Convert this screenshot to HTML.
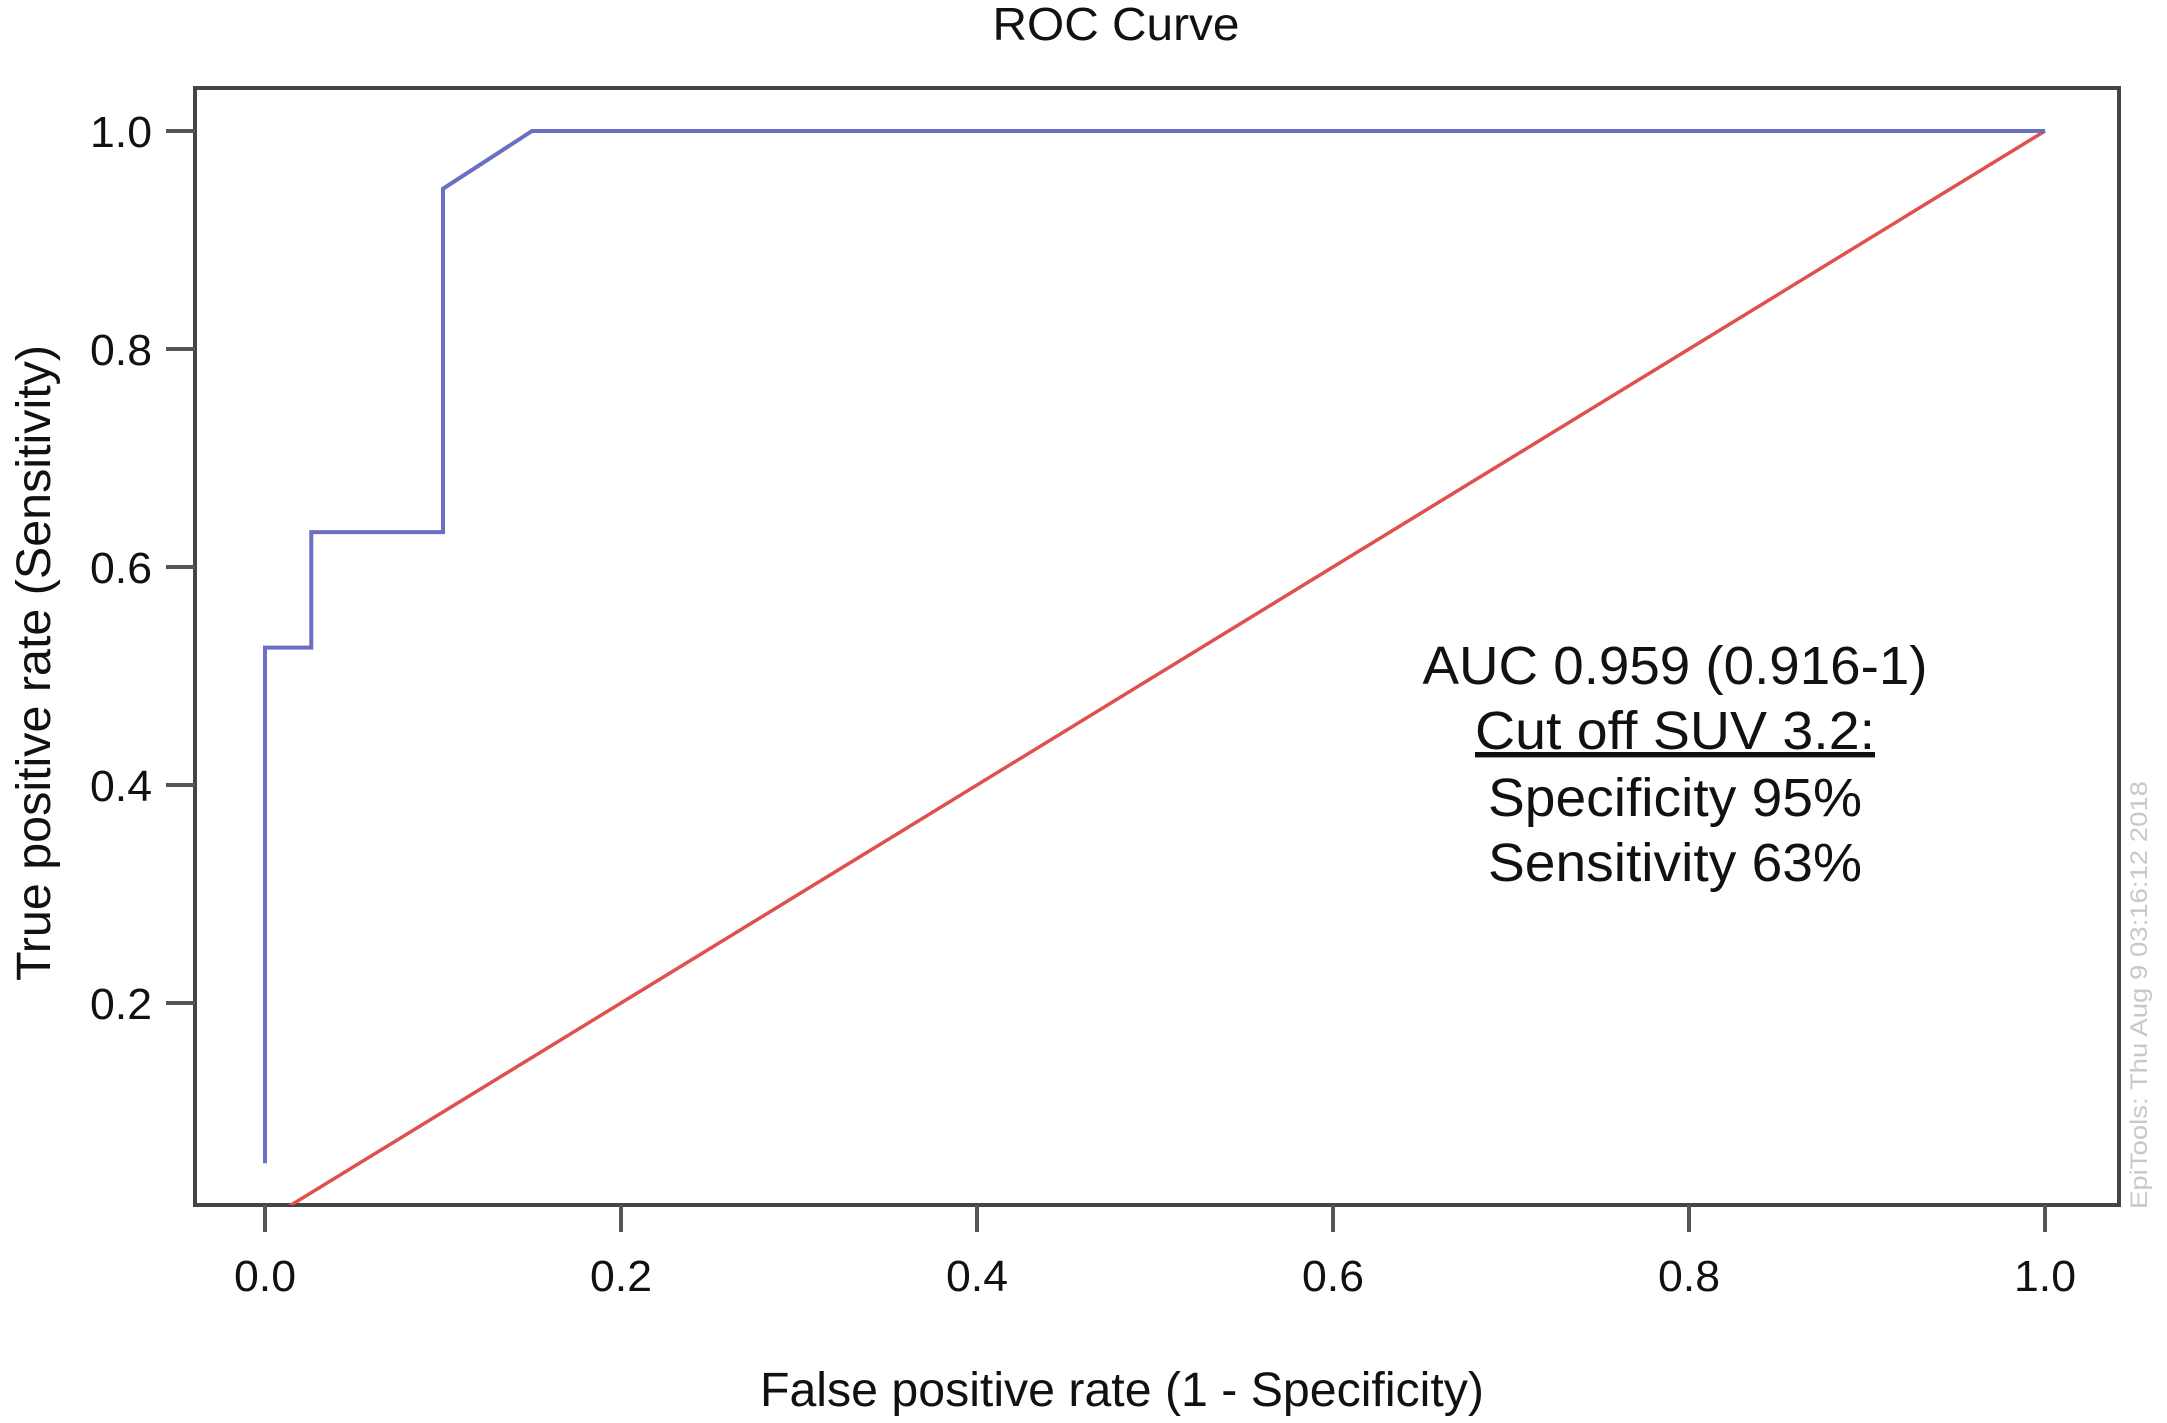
<!DOCTYPE html>
<html><head><meta charset="utf-8"><style>
html,body{margin:0;padding:0;background:#fff;}
svg{display:block;font-family:"Liberation Sans",sans-serif;}
</style></head><body>
<svg id="chart" width="2167" height="1423" viewBox="0 0 2167 1423">
<defs><clipPath id="plotclip"><rect x="195" y="88" width="1924" height="1117"/></clipPath></defs>
<text x="1116" y="40" font-size="46" text-anchor="middle" fill="#111" textLength="247" lengthAdjust="spacingAndGlyphs">ROC Curve</text>
<rect x="195" y="88" width="1924" height="1117" fill="none" stroke="#444" stroke-width="4"/>
<g id="xaxis"></g>
<g id="yaxis"></g>
<g id="series" clip-path="url(#plotclip)"></g>
<text x="1122" y="1406" font-size="48" text-anchor="middle" fill="#111" textLength="724" lengthAdjust="spacingAndGlyphs">False positive rate (1 - Specificity)</text>
<text transform="translate(50,663) rotate(-90)" font-size="48" text-anchor="middle" fill="#111" textLength="636" lengthAdjust="spacingAndGlyphs">True positive rate (Sensitivity)</text>
<g font-size="54" text-anchor="middle" fill="#111">
<text x="1675" y="684" textLength="505" lengthAdjust="spacingAndGlyphs">AUC 0.959 (0.916-1)</text>
<text x="1675" y="749" text-decoration="underline" textLength="400" lengthAdjust="spacingAndGlyphs">Cut off SUV 3.2:</text>
<text x="1675" y="816" textLength="374" lengthAdjust="spacingAndGlyphs">Specificity 95%</text>
<text x="1675" y="881" textLength="374" lengthAdjust="spacingAndGlyphs">Sensitivity 63%</text>
</g>
<text transform="translate(2147,995) rotate(-90)" font-size="24" text-anchor="middle" fill="#c8c8c8" textLength="428" lengthAdjust="spacingAndGlyphs">EpiTools: Thu Aug  9 03:16:12 2018</text>
</svg>
<script>
const xTicks = [0.0, 0.2, 0.4, 0.6, 0.8, 1.0];
const xTickLabels = ["0.0", "0.2", "0.4", "0.6", "0.8", "1.0"];
const yTicks = [0.2, 0.4, 0.6, 0.8, 1.0];
const yTickLabels = ["0.2", "0.4", "0.6", "0.8", "1.0"];
const rocFPR = [0, 0, 0.026, 0.026, 0.1, 0.1, 0.15, 1.0];
const rocTPR = [0.053, 0.526, 0.526, 0.632, 0.632, 0.947, 1.0, 1.0];
const refFPR = [0, 1];
const refTPR = [0, 1];

const NS = "http://www.w3.org/2000/svg";
function sx(v){ return 265 + v * 1780; }
function sy(v){ return 1221 - v * 1090; }
function mk(tag, attrs, parent){
  const e = document.createElementNS(NS, tag);
  for (const k in attrs) e.setAttribute(k, attrs[k]);
  parent.appendChild(e);
  return e;
}
const xg = document.getElementById('xaxis');
xTicks.forEach((t,i)=>{
  const l = mk('line',{x1:sx(t),x2:sx(t),y1:1205,y2:1232,stroke:'#555','stroke-width':4},xg);
  
  
  const tx = mk('text',{x:sx(t),y:1291,'font-size':44,'text-anchor':'middle',fill:'#111',textLength:62,lengthAdjust:'spacingAndGlyphs'},xg);
  tx.textContent = xTickLabels[i];
  
  
});
const yg = document.getElementById('yaxis');
yTicks.forEach((t,i)=>{
  const l = mk('line',{x1:166,x2:195,y1:sy(t),y2:sy(t),stroke:'#555','stroke-width':4},yg);
  
  
  const tx = mk('text',{x:152,y:sy(t)+16,'font-size':44,'text-anchor':'end',fill:'#111',textLength:62,lengthAdjust:'spacingAndGlyphs'},yg);
  tx.textContent = yTickLabels[i];
  
  
});
const sg = document.getElementById('series');
const ref = mk('polyline',{points:refFPR.map((v,i)=>sx(v)+','+sy(refTPR[i])).join(' '),fill:'none',stroke:'#e0504f','stroke-width':3.5},sg);


const roc = mk('polyline',{points:rocFPR.map((v,i)=>sx(v)+','+sy(rocTPR[i])).join(' '),fill:'none',stroke:'#6b6fc4','stroke-width':4},sg);


</script>
</body></html>
